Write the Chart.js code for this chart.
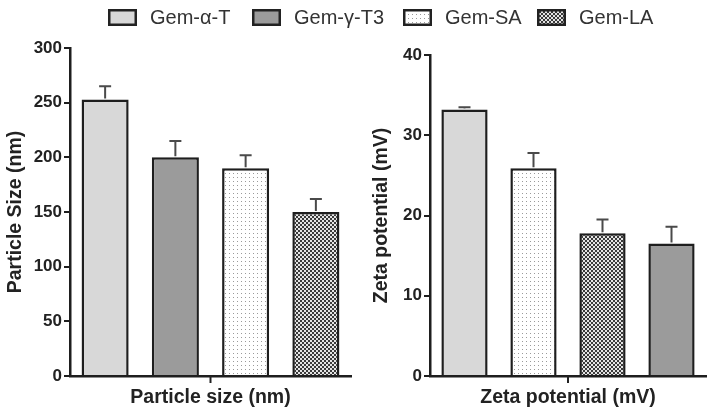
<!DOCTYPE html>
<html>
<head>
<meta charset="utf-8">
<script src="https://cdn.jsdelivr.net/npm/chart.js@4"></script>
<style>
  html, body { margin: 0; padding: 0; background: #fff; }
  body { width: 714px; height: 414px; position: relative; overflow: hidden; font-family: "Liberation Sans", Arial, sans-serif; }
  #legend { position: absolute; top: 0; left: 0; width: 714px; height: 34px; }
  .item { position: absolute; top: 4px; display: flex; align-items: center; height: 26px; }
  .item canvas { width: 29px; height: 17px; display: block; }
  .item span { font-size: 20px; color: #333; margin-left: 13px; white-space: nowrap; }
  #c1wrap { position: absolute; left: 0; top: 0; width: 360px; height: 414px; }
  #c2wrap { position: absolute; left: 357px; top: 0; width: 357px; height: 414px; }
</style>
</head>
<body>
<div id="c1wrap"><canvas id="c1"></canvas></div>
<div id="c2wrap"><canvas id="c2"></canvas></div>
<div id="legend"></div>
<script>
// ---- data ----
const legendLabels = ['Gem-\u03b1-T', 'Gem-\u03b3-T3', 'Gem-SA', 'Gem-LA'];
const sizeCategories = ['Gem-\u03b1-T', 'Gem-\u03b3-T3', 'Gem-SA', 'Gem-LA'];
const sizeValues = [253, 200, 190, 150];
const sizeErrors = [12, 15, 12, 12];
const sizeTicks = [0, 50, 100, 150, 200, 250, 300];
const zetaCategories = ['Gem-\u03b1-T', 'Gem-SA', 'Gem-LA', 'Gem-\u03b3-T3'];
const zetaValues = [33.2, 25.9, 17.8, 16.5];
const zetaErrors = [0.3, 1.9, 1.7, 2.1];
const zetaTicks = [0, 10, 20, 30, 40];

// ---- fills ----
function makeDots() {
  const c = document.createElement('canvas'); c.width = 4; c.height = 4;
  const g = c.getContext('2d');
  g.fillStyle = '#ffffff'; g.fillRect(0, 0, 4, 4);
  g.fillStyle = '#9a9a9a'; g.fillRect(1, 1, 1, 1);
  return c;
}
function makeChecker() {
  const c = document.createElement('canvas'); c.width = 4; c.height = 4;
  const g = c.getContext('2d');
  g.fillStyle = '#e4e4e4'; g.fillRect(0, 0, 4, 4);
  g.fillStyle = '#3a3a3a'; g.fillRect(0, 0, 2, 2); g.fillRect(2, 2, 2, 2);
  return c;
}
const tmp = document.createElement('canvas').getContext('2d');
const fills = {
  'Gem-\u03b1-T': '#d8d8d8',
  'Gem-\u03b3-T3': '#9b9b9b',
  'Gem-SA': tmp.createPattern(makeDots(), 'repeat'),
  'Gem-LA': tmp.createPattern(makeChecker(), 'repeat')
};

// ---- legend ----
const legendX = [108, 252, 403, 537];
const legend = document.getElementById('legend');
legendLabels.forEach((lab, i) => {
  const d = document.createElement('div'); d.className = 'item'; d.style.left = legendX[i] + 'px';
  const cv = document.createElement('canvas'); cv.width = 29; cv.height = 17;
  const g = cv.getContext('2d');
  const f = fills[lab];
  if (typeof f === 'string') g.fillStyle = f;
  else g.fillStyle = g.createPattern(lab === 'Gem-SA' ? makeDots() : makeChecker(), 'repeat');
  g.fillRect(0, 0, 29, 17);
  g.strokeStyle = '#222'; g.lineWidth = 2.5; g.strokeRect(1.25, 1.25, 26.5, 14.5);
  d.appendChild(cv);
  const s = document.createElement('span'); s.textContent = lab; d.appendChild(s);
  legend.appendChild(d);
});

// ---- plugins ----
const errorBars = {
  id: 'errorBars',
  afterDatasetsDraw(chart, args, opts) {
    const ctx = chart.ctx, y = chart.scales.y;
    const meta = chart.getDatasetMeta(0);
    const vals = chart.data.datasets[0].data;
    ctx.save();
    ctx.strokeStyle = '#4a4a4a'; ctx.lineWidth = 2;
    meta.data.forEach((bar, i) => {
      const top = y.getPixelForValue(vals[i] + opts.errors[i]);
      const base = y.getPixelForValue(vals[i]);
      ctx.beginPath();
      ctx.moveTo(bar.x, base - 1); ctx.lineTo(bar.x, top);
      ctx.moveTo(bar.x - 6, top); ctx.lineTo(bar.x + 6, top);
      ctx.stroke();
    });
    ctx.restore();
  }
};
const centerTick = {
  id: 'centerTick',
  afterDraw(chart) {
    const ctx = chart.ctx, a = chart.chartArea;
    const cx = (a.left + a.right) / 2;
    ctx.save(); ctx.strokeStyle = '#222'; ctx.lineWidth = 2;
    ctx.beginPath(); ctx.moveTo(cx, a.bottom); ctx.lineTo(cx, a.bottom + 7); ctx.stroke();
    ctx.restore();
  }
};

function makeChart(id, cats, vals, errs, ticks, ytitle, xtitle, pad, yWidth, yTitlePad) {
  return new Chart(document.getElementById(id), {
    type: 'bar',
    data: {
      labels: cats,
      datasets: [{
        data: vals,
        backgroundColor: cats.map(c => fills[c]),
        borderColor: '#1e1e1e',
        borderWidth: 2.5,
        borderSkipped: 'bottom',
        categoryPercentage: 1,
        barPercentage: 0.67
      }]
    },
    options: {
      responsive: true,
      maintainAspectRatio: false,
      animation: false,
      devicePixelRatio: 1,
      layout: { padding: pad },
      plugins: { legend: { display: false }, tooltip: { enabled: false }, errorBars: { errors: errs } },
      scales: {
        x: {
          grid: { display: false },
          border: { display: true, color: '#1e1e1e', width: 2.5 },
          ticks: { display: false },
          title: { display: true, text: xtitle, color: '#222', font: { family: 'Liberation Sans', size: 19.5, weight: 'bold' }, padding: { top: 6, bottom: 5 } },
          afterFit(s) { s.height = 38; }
        },
        y: {
          min: ticks[0], max: ticks[ticks.length - 1],
          afterBuildTicks(s) { s.ticks = ticks.map(v => ({ value: v })); },
          grid: { display: true, drawOnChartArea: false, drawTicks: true, tickLength: 6, color: '#1e1e1e', lineWidth: 2 },
          border: { display: true, color: '#1e1e1e', width: 2.5 },
          ticks: { color: '#222', padding: 2, font: { family: 'Liberation Sans', size: 17, weight: 'bold' } },
          title: { display: true, text: ytitle, color: '#222', font: { family: 'Liberation Sans', size: 19.5, weight: 'bold' }, padding: { top: yTitlePad, bottom: 0 } },
          afterFit(s) { s.width = yWidth; }
        }
      }
    },
    plugins: [errorBars, centerTick]
  });
}

makeChart('c1', sizeCategories, sizeValues, sizeErrors, sizeTicks, 'Particle Size (nm)', 'Particle size (nm)', { top: 48, right: 9, left: 0, bottom: 0 }, 70, 4);
makeChart('c2', zetaCategories, zetaValues, zetaErrors, zetaTicks, 'Zeta potential (mV)', 'Zeta potential (mV)', { top: 55, right: 8, left: 0, bottom: 0 }, 73, 13);
</script>
</body>
</html>
